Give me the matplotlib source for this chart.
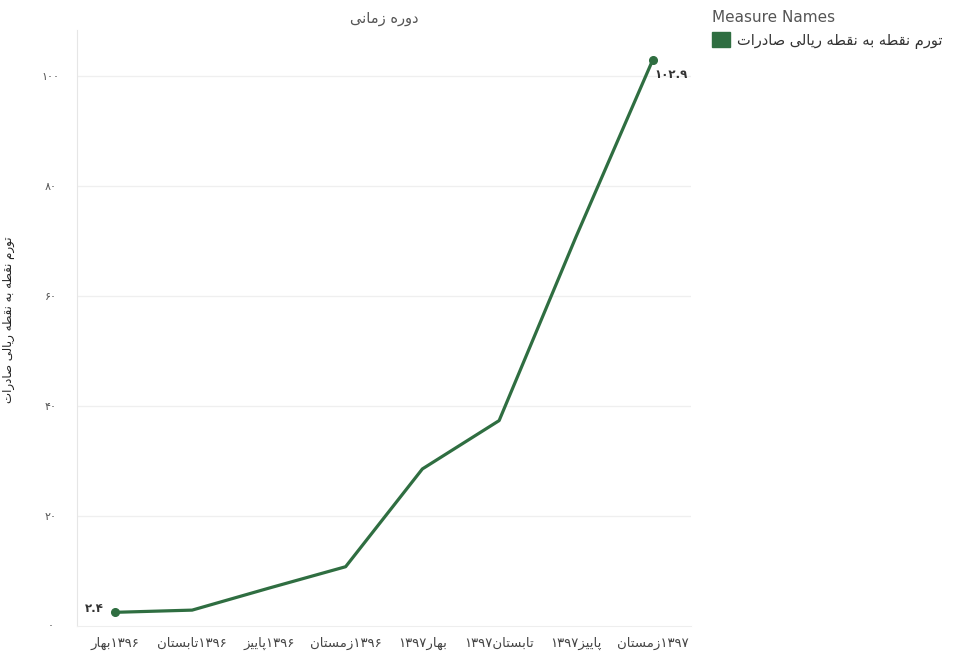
import matplotlib
matplotlib.use("Agg")
import matplotlib.pyplot as plt
from matplotlib.patches import Patch
from matplotlib.ticker import FixedLocator, FuncFormatter

# ---------------- data ----------------
seasons = ["بهار", "تابستان", "پاییز", "زمستان", "بهار", "تابستان", "پاییز", "زمستان"]
years = ["۱۳۹۶", "۱۳۹۶", "۱۳۹۶", "۱۳۹۶", "۱۳۹۷", "۱۳۹۷", "۱۳۹۷", "۱۳۹۷"]
year_on_left = [False, False, False, False, True, True, True, False]
values = [2.4, 2.8, 6.8, 10.7, 28.5, 37.3, 70.7, 102.9]
y_ticks = [0, 20, 40, 60, 80, 100]
series_name = "تورم نقطه به نقطه ریالی صادرات"
x_title = "دوره زمانی"
legend_title = "Measure Names"

# ------------- Persian shaping (presentation forms, visual order) -------------
FORMS = {
    'ا': ('\uFE8D', '\uFE8E'),
    'د': ('\uFEA9', '\uFEAA'),
    'ر': ('\uFEAD', '\uFEAE'),
    'ز': ('\uFEAF', '\uFEB0'),
    'و': ('\uFEED', '\uFEEE'),
    'ب': ('\uFE8F', '\uFE90', '\uFE91', '\uFE92'),
    'پ': ('\uFB56', '\uFB57', '\uFB58', '\uFB59'),
    'ت': ('\uFE95', '\uFE96', '\uFE97', '\uFE98'),
    'س': ('\uFEB1', '\uFEB2', '\uFEB3', '\uFEB4'),
    'ص': ('\uFEB9', '\uFEBA', '\uFEBB', '\uFEBC'),
    'ط': ('\uFEC1', '\uFEC2', '\uFEC3', '\uFEC4'),
    'ق': ('\uFED5', '\uFED6', '\uFED7', '\uFED8'),
    'ل': ('\uFEDD', '\uFEDE', '\uFEDF', '\uFEE0'),
    'م': ('\uFEE1', '\uFEE2', '\uFEE3', '\uFEE4'),
    'ن': ('\uFEE5', '\uFEE6', '\uFEE7', '\uFEE8'),
    'ه': ('\uFEE9', '\uFEEA', '\uFEEB', '\uFEEC'),
    'ی': ('\uFBFC', '\uFBFD', '\uFBFE', '\uFBFF'),
}


def shape(s):
    out = []
    for i, c in enumerate(s):
        if c not in FORMS:
            out.append(c)
            continue
        f = FORMS[c]
        prev = s[i - 1] if i > 0 else None
        nxt = s[i + 1] if i + 1 < len(s) else None
        jp = prev in FORMS and len(FORMS[prev]) == 4
        jn = len(f) == 4 and nxt in FORMS
        if jp and jn:
            out.append(f[3])
        elif jp:
            out.append(f[1])
        elif jn:
            out.append(f[2])
        else:
            out.append(f[0])
    return ''.join(reversed(out))


FA = str.maketrans('0123456789', '۰۱۲۳۴۵۶۷۸۹')


def fa_num(v, fmt="{:g}"):
    return fmt.format(v).translate(FA)


x_labels = [(y + shape(s)) if left else (shape(s) + y)
            for s, y, left in zip(seasons, years, year_on_left)]

# ---------------- plot ----------------
plt.rcParams['font.family'] = ['DejaVu Sans']
GREEN = "#2f6e41"

fig = plt.figure(figsize=(9.56, 6.56), dpi=100)
ax = fig.add_axes([77 / 956, 1 - 625.5 / 656, 614 / 956, 595.5 / 656])

x = list(range(len(values)))
ax.plot(x, values, color=GREEN, lw=2.3, solid_capstyle='round', zorder=3)
ax.plot([x[0], x[-1]], [values[0], values[-1]], 'o', color=GREEN, ms=5.5, zorder=4)

ax.annotate(fa_num(values[0], "{:.1f}"), (x[0], values[0]), xytext=(-8, 3),
            textcoords='offset points', ha='right', va='center',
            fontsize=8.5, fontweight='bold', color='#333333')
ax.annotate(fa_num(values[-1], "{:.1f}"), (x[-1], values[-1]), xytext=(1, -10),
            textcoords='offset points', ha='left', va='center',
            fontsize=8.5, fontweight='bold', color='#333333')

ax.set_xlim(-0.5, len(values) - 0.5)
ax.set_ylim(0, 108.4)

ax.xaxis.set_major_locator(FixedLocator(x))
ax.set_xticklabels(x_labels, fontsize=9.5, color='#444444')
ax.yaxis.set_major_locator(FixedLocator(y_ticks))
ax.yaxis.set_major_formatter(FuncFormatter(lambda v, p: fa_num(v)))
ax.tick_params(axis='x', length=0, pad=8)
ax.tick_params(axis='y', length=0, pad=19, labelsize=8, labelcolor='#555555')
for lab in ax.get_yticklabels():
    lab.set_ha('center')

for yt in y_ticks[1:]:
    ax.axhline(yt, color='#efefef', lw=0.9, zorder=1)

for side in ['top', 'right']:
    ax.spines[side].set_visible(False)
ax.spines['left'].set_color('#e6e6e6')
ax.spines['bottom'].set_color('#eeeeee')

ax.set_title(shape(x_title), fontsize=10.5, color='#555555', pad=5)
ax.set_ylabel(shape(series_name), fontsize=8.5, color='#222222')
ax.yaxis.set_label_coords(-62 / 614, 0.513)

fig.legend(handles=[Patch(facecolor=GREEN, edgecolor=GREEN, label=shape(series_name))],
           title=legend_title, loc='upper left', bbox_to_anchor=(702 / 956, 1.0),
           frameon=False, handlelength=1.2, handleheight=1.2, handletextpad=0.5,
           fontsize=10.5, title_fontsize=11, alignment='left', borderaxespad=0.3,
           labelcolor='#333333')
fig.legends[0].get_title().set_color('#555555')

fig.savefig("out.png", dpi=100, facecolor='white')
